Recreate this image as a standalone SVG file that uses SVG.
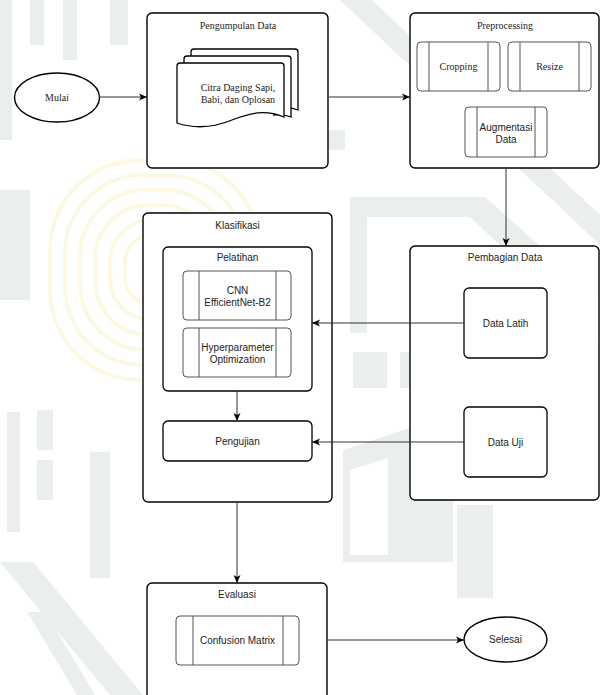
<svg xmlns="http://www.w3.org/2000/svg" width="600" height="695" viewBox="0 0 600 695">
<style>
.box{fill:#fff;stroke:#000;stroke-width:1.4}
.inner{fill:#fff;stroke:#000;stroke-width:1.3}
.proc{fill:#fff;stroke:#555;stroke-width:1}
.pl{stroke:#555;stroke-width:1}
.serif{font-family:"Liberation Serif","Times New Roman",serif;font-size:10px;fill:#222;text-anchor:middle}
.sans{font-family:"Liberation Sans",Arial,sans-serif;font-size:10px;fill:#222;text-anchor:middle}
.conn{stroke:#333;stroke-width:1;fill:none}
.wm{fill:#ebefeb}
.wy{fill:none;stroke:#fdf8e2;stroke-width:4}
</style>
<defs>
<marker id="arr" markerUnits="userSpaceOnUse" markerWidth="9" markerHeight="8" refX="8" refY="4" orient="auto">
<path d="M0,0.5 L8,4 L0,7.5 L2,4 Z" fill="#000"/>
</marker>
</defs>
<rect width="600" height="695" fill="#fff"/>
<g id="watermark">
<g>
<rect class="wy" x="50" y="160" width="210" height="220" rx="90"/>
<rect class="wy" x="65" y="175" width="180" height="190" rx="78"/>
<rect class="wy" x="80" y="190" width="150" height="160" rx="66"/>
<rect class="wy" x="95" y="205" width="120" height="130" rx="54"/>
<rect class="wy" x="110" y="220" width="90" height="100" rx="42"/>
<rect class="wy" x="125" y="235" width="60" height="70" rx="28"/>
</g>
<rect class="wm" x="0" y="0" width="12" height="140"/>
<rect class="wm" x="30" y="0" width="14" height="45"/>
<rect class="wm" x="63" y="0" width="14" height="60"/>
<rect class="wm" x="110" y="0" width="18" height="45"/>
<polygon class="wm" points="340,0 372,0 600,215 600,245"/>
<polygon class="wm" points="300,130 345,130 345,150 300,150"/>
<polygon class="wm" points="350,197 485,197 600,300 600,340 470,217 367,217 367,333 350,333"/>
<rect class="wm" x="353" y="352" width="34" height="36"/>
<rect class="wm" x="400" y="352" width="12" height="36"/>
<path class="wm" d="M343,450 L410,428 L453,428 L453,562 L343,562 Z M350,470 L350,555 L388,555 L388,458 Z" fill-rule="evenodd"/>
<rect class="wm" x="457" y="505" width="36" height="93"/>
<rect class="wm" x="7" y="412" width="13" height="120"/>
<rect class="wm" x="37" y="410" width="16" height="40"/>
<rect class="wm" x="37" y="460" width="16" height="40"/>
<rect class="wm" x="90" y="452" width="20" height="126"/>
<polygon class="wm" points="0,562 33,562 143,695 110,695"/>
<polygon class="wm" points="27,612 45,612 95,695 77,695"/>
<polygon class="wm" points="0,190 30,190 30,300 0,300"/>
</g>
<g id="mulai">
<ellipse class="box" cx="57" cy="97.5" rx="42.5" ry="24.5"/>
<text class="serif" x="57" y="101">Mulai</text>
</g>
<g id="pengumpulan">
<rect class="box" x="147" y="13" width="181" height="155" rx="5"/>
<text class="serif" x="238" y="28.5">Pengumpulan Data</text>
<path class="inner" d="M191,109 V52 Q191,49 194,49 H295 Q298,49 298,52 V110 C290,107 285,107 280,108"/>
<path class="inner" d="M184,116 V59 Q184,56 187,56 H288 Q291,56 291,59 V117 C283,114 278,114 273,115"/>
<path class="inner" d="M177,123 V66 Q177,63 180,63 H281 Q284,63 284,66 V117 C265,109 250,113 232,120 C215,127 195,129 177,123 Z"/>
<text class="serif" x="238" y="90.5">Citra Daging Sapi,</text>
<text class="serif" x="238" y="102.5">Babi, dan Oplosan</text>
</g>
<g id="preprocessing">
<rect class="box" x="410" y="13" width="189" height="155" rx="5"/>
<text class="serif" x="505" y="28.5">Preprocessing</text>
<rect class="proc" x="417" y="42" width="83" height="49" rx="4"/>
<line class="pl" x1="429" y1="42" x2="429" y2="91"/><line class="pl" x1="488" y1="42" x2="488" y2="91"/>
<text class="serif" x="458.5" y="69.5">Cropping</text>
<rect class="proc" x="508" y="42" width="83" height="49" rx="4"/>
<line class="pl" x1="520" y1="42" x2="520" y2="91"/><line class="pl" x1="579" y1="42" x2="579" y2="91"/>
<text class="serif" x="549.5" y="69.5">Resize</text>
<rect class="proc" x="465" y="107" width="82" height="50" rx="4"/>
<line class="pl" x1="477" y1="107" x2="477" y2="157"/><line class="pl" x1="535" y1="107" x2="535" y2="157"/>
<text class="sans" x="506" y="130.5">Augmentasi</text>
<text class="sans" x="506" y="142.5">Data</text>
</g>
<g id="pembagian">
<rect class="box" x="410" y="246" width="189" height="254" rx="5"/>
<text class="sans" x="505" y="260.5">Pembagian Data</text>
<rect class="inner" x="464" y="288" width="83" height="70" rx="5"/>
<text class="sans" x="505.5" y="326.5">Data Latih</text>
<rect class="inner" x="464" y="407" width="83" height="70" rx="5"/>
<text class="sans" x="505.5" y="445.5">Data Uji</text>
</g>
<g id="klasifikasi">
<rect class="box" x="143" y="213" width="189" height="289" rx="5"/>
<text class="sans" x="237.5" y="228.5">Klasifikasi</text>
<rect class="inner" x="163" y="247" width="149" height="144" rx="5"/>
<text class="sans" x="237.5" y="260.5">Pelatihan</text>
<rect class="proc" x="183" y="271" width="108" height="49" rx="4"/>
<line class="pl" x1="199" y1="271" x2="199" y2="320"/><line class="pl" x1="276" y1="271" x2="276" y2="320"/>
<text class="sans" x="237.5" y="293.5">CNN</text>
<text class="sans" x="237.5" y="305.5">EfficientNet-B2</text>
<rect class="proc" x="183" y="328" width="108" height="49" rx="4"/>
<line class="pl" x1="199" y1="328" x2="199" y2="377"/><line class="pl" x1="276" y1="328" x2="276" y2="377"/>
<text class="sans" x="237.5" y="350.5">Hyperparameter</text>
<text class="sans" x="237.5" y="362.5">Optimization</text>
<rect class="inner" x="163" y="421" width="149" height="40" rx="5"/>
<text class="sans" x="237.5" y="444.5">Pengujian</text>
</g>
<g id="evaluasi">
<rect class="box" x="147" y="583" width="180" height="130" rx="5"/>
<text class="sans" x="237" y="597.5">Evaluasi</text>
<rect class="proc" x="176" y="616" width="123" height="49" rx="4"/>
<line class="pl" x1="193" y1="616" x2="193" y2="665"/><line class="pl" x1="283" y1="616" x2="283" y2="665"/>
<text class="sans" x="237.5" y="643.5">Confusion Matrix</text>
</g>
<g id="selesai">
<ellipse class="box" cx="505.5" cy="639.5" rx="41.5" ry="22.5"/>
<text class="sans" x="505.5" y="643">Selesai</text>
</g>
<g id="connectors">
<line class="conn" x1="99" y1="97" x2="147" y2="97" marker-end="url(#arr)"/>
<line class="conn" x1="329" y1="97" x2="410" y2="97" marker-end="url(#arr)"/>
<line class="conn" x1="506" y1="168" x2="506" y2="246" marker-end="url(#arr)"/>
<line class="conn" x1="464" y1="323" x2="312" y2="323" marker-end="url(#arr)"/>
<line class="conn" x1="464" y1="442" x2="312" y2="442" marker-end="url(#arr)"/>
<line class="conn" x1="237" y1="391" x2="237" y2="421" marker-end="url(#arr)"/>
<line class="conn" x1="237" y1="502" x2="237" y2="583" marker-end="url(#arr)"/>
<line class="conn" x1="328" y1="640" x2="464" y2="640" marker-end="url(#arr)"/>
</g>
</svg>
